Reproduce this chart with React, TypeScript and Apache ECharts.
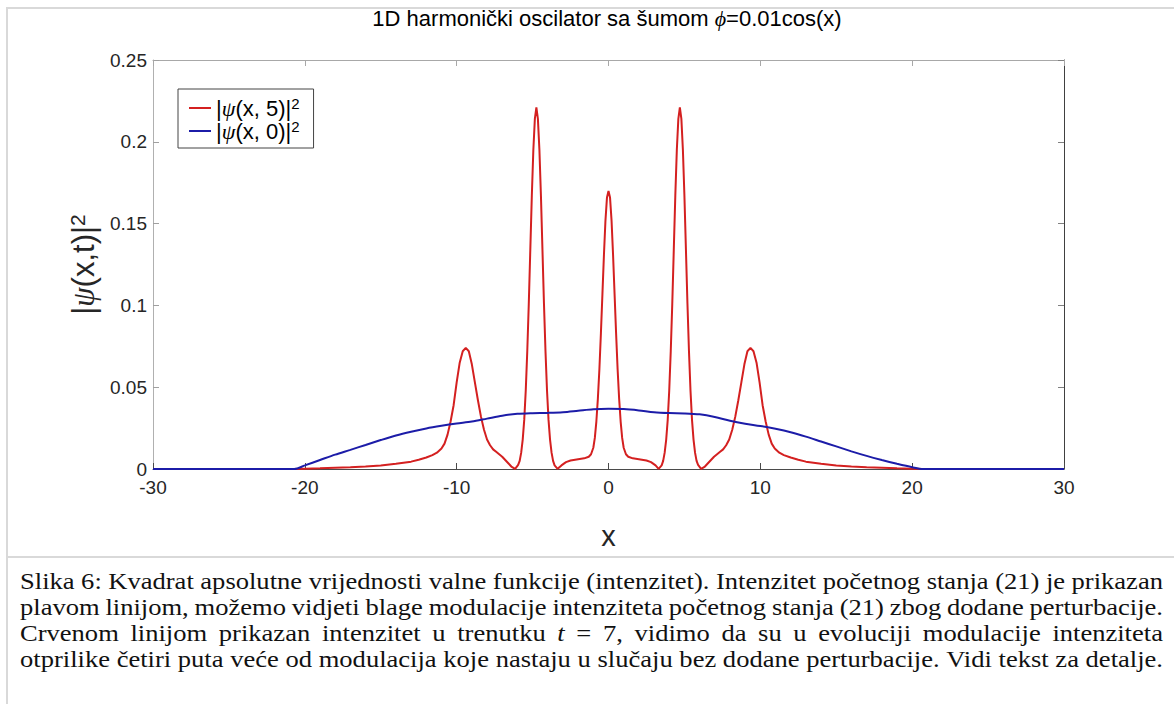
import React, { useEffect, useRef } from "react";
import * as echarts from "echarts";

// ---------- data ----------
const xTicks = [-30, -20, -10, 0, 10, 20, 30];
const yTicks = [0, 0.05, 0.1, 0.15, 0.2, 0.25];

const seriesNames = ["|ψ(x, 5)|²", "|ψ(x, 0)|²"];
const legendRich = ["{n||}{g|ψ}{n|(x, 5)|}{s|2}", "{n||}{g|ψ}{n|(x, 0)|}{s|2}"];

const redX = [
  -30, -25, -20.7, -20, -19, -18, -17, -16, -15, -14, -13, -12.5, -12, -11.6, -11.3, -11.0, -10.8, -10.6,
  -10.4, -10.2, -10.0, -9.8, -9.6, -9.4, -9.2, -9.0, -8.8, -8.6, -8.4, -8.2, -8.0, -7.8, -7.6, -7.4, -7.2,
  -7.0, -6.8, -6.6, -6.4, -6.15, -5.95, -5.85, -5.75, -5.65, -5.55, -5.45, -5.35, -5.25, -5.15, -5.05,
  -4.95, -4.85, -4.75, -4.65, -4.55, -4.45, -4.35, -4.25, -4.15, -4.05, -3.95, -3.85, -3.75, -3.65, -3.55,
  -3.35, -3.1, -2.8, -2.5, -2.0, -1.6, -1.3, -1.15, -1.0, -0.9, -0.8, -0.7, -0.6, -0.5, -0.4, -0.3, -0.2,
  -0.1, 0, 0.1, 0.2, 0.3, 0.4, 0.5, 0.6, 0.7, 0.8, 0.9, 1.0, 1.15, 1.3, 1.6, 2.0, 2.5, 2.8, 3.1, 3.3, 3.5,
  3.6, 3.7, 3.8, 3.9, 4.0, 4.1, 4.2, 4.3, 4.4, 4.5, 4.6, 4.7, 4.8, 4.9, 5.0, 5.1, 5.2, 5.3, 5.4, 5.5, 5.6,
  5.7, 5.8, 5.9, 6.1, 6.35, 6.55, 6.75, 6.95, 7.15, 7.35, 7.55, 7.75, 7.95, 8.15, 8.35, 8.55, 8.75, 8.95,
  9.15, 9.35, 9.55, 9.75, 9.95, 10.15, 10.35, 10.55, 10.75, 10.95, 11.25, 11.55, 12, 12.5, 13, 14, 15, 16,
  17, 18, 19, 20, 20.7, 25, 30,
];
const redY = [
  0, 0, 0, 0.0002, 0.0004, 0.0007, 0.001, 0.0015, 0.0022, 0.0032, 0.0045, 0.0057, 0.007, 0.0085, 0.01,
  0.0125, 0.0155, 0.021, 0.029, 0.039, 0.053, 0.065, 0.072, 0.074, 0.072, 0.064, 0.053, 0.042, 0.032, 0.024,
  0.018, 0.0145, 0.012, 0.0105, 0.009, 0.0075, 0.0055, 0.0035, 0.0015, 0.0001, 0.0025, 0.005, 0.01, 0.018,
  0.03, 0.048, 0.072, 0.101, 0.134, 0.167, 0.195, 0.214, 0.221, 0.214, 0.195, 0.167, 0.134, 0.101, 0.072,
  0.048, 0.03, 0.018, 0.01, 0.005, 0.0022, 0.0001, 0.0022, 0.0042, 0.0052, 0.006, 0.0065, 0.0075, 0.009,
  0.013, 0.019, 0.029, 0.043, 0.061, 0.083, 0.107, 0.131, 0.152, 0.166, 0.17, 0.166, 0.152, 0.131, 0.107,
  0.083, 0.061, 0.043, 0.029, 0.019, 0.013, 0.009, 0.0075, 0.0065, 0.006, 0.0052, 0.0042, 0.0022, 0.0001,
  0.0022, 0.005, 0.01, 0.018, 0.03, 0.048, 0.072, 0.101, 0.134, 0.167, 0.195, 0.214, 0.221, 0.214, 0.195,
  0.167, 0.134, 0.101, 0.072, 0.048, 0.03, 0.018, 0.01, 0.005, 0.0025, 0.0001, 0.0015, 0.0035, 0.0055,
  0.0075, 0.009, 0.0105, 0.012, 0.0145, 0.018, 0.024, 0.032, 0.042, 0.053, 0.064, 0.072, 0.074, 0.072,
  0.065, 0.053, 0.039, 0.029, 0.021, 0.0155, 0.0125, 0.01, 0.0085, 0.007, 0.0057, 0.0045, 0.0032, 0.0022,
  0.0015, 0.001, 0.0007, 0.0004, 0.0002, 0, 0, 0,
];

const blueX = [
  -30, -25, -20.7, -20, -19, -18, -17, -16, -15, -14, -13, -12, -11, -10, -9, -8, -7, -6, -5, -4, -3, -2, -1,
  0, 1, 2, 3, 4, 5, 6, 7, 8, 9, 10, 11, 12, 13, 14, 15, 16, 17, 18, 19, 20, 20.7, 25, 30,
];
const blueY = [
  0, 0, 0, 0.0022, 0.0055, 0.0088, 0.0117, 0.0147, 0.0177, 0.0205, 0.0228, 0.0248, 0.0264, 0.0278, 0.029,
  0.0308, 0.0326, 0.0337, 0.0341, 0.0343, 0.0347, 0.0356, 0.0365, 0.0368, 0.0366, 0.0358, 0.0347, 0.0342,
  0.034, 0.0334, 0.0318, 0.0295, 0.0277, 0.0263, 0.0246, 0.0225, 0.0198, 0.0168, 0.0138, 0.0108, 0.008,
  0.0055, 0.0032, 0.0011, 0, 0, 0,
];

const titleRich = "{a|1D harmonički oscilator sa šumom }{p|ϕ}{a|=0.01cos(x)}";
const yNameRich = "{n||}{g|ψ}{n|(x,t)|}{s|2}";
const xName = "x";

const captionLines = [
  "Slika 6: Kvadrat apsolutne vrijednosti valne funkcije (intenzitet). Intenzitet početnog stanja (21) je prikazan",
  "plavom linijom, možemo vidjeti blage modulacije intenziteta početnog stanja (21) zbog dodane perturbacije.",
  "Crvenom linijom prikazan intenzitet u trenutku *t* = 7, vidimo da su u evoluciji modulacije intenziteta",
  "otprilike četiri puta veće od modulacija koje nastaju u slučaju bez dodane perturbacije. Vidi tekst za detalje.",
];
const captionJustify = [true, true, true, false];

// ---------- layout / style ----------
const SANS = '"Liberation Sans", Arial, sans-serif';
const SERIF = '"Liberation Serif", "Times New Roman", serif';
const RED = "#d42020";
const BLUE = "#1c1ca8";
const CAP_FONT = 23;
const CAP_X0 = 20;
const CAP_W = 1143;
const CAP_Y = [581, 607, 633, 659];

export default function App() {
  const ref = useRef<HTMLDivElement>(null);

  useEffect(() => {
    const el = ref.current;
    if (!el) return;
    const chart = echarts.init(el, undefined, { renderer: "svg" });

    // caption words, justified and horizontally stretched like the reference image
    const canvas = document.createElement("canvas");
    const ctx = canvas.getContext("2d")!;
    const parsed = captionLines.map((line) =>
      line.split(" ").map((w) => {
        const it = /^\*.+\*$/.test(w);
        return { t: it ? w.slice(1, -1) : w, it };
      })
    );
    const measure = (w: { t: string; it: boolean }) => {
      ctx.font = `${w.it ? "italic " : ""}${CAP_FONT}px ${SERIF}`;
      return ctx.measureText(w.t).width;
    };
    ctx.font = `${CAP_FONT}px ${SERIF}`;
    const space = ctx.measureText(" ").width;
    const lastWords = parsed[parsed.length - 1];
    const lastNatural =
      lastWords.map(measure).reduce((a, b) => a + b, 0) + space * (lastWords.length - 1);
    const sx = CAP_W / lastNatural;

    const capElems: any[] = [];
    parsed.forEach((words, i) => {
      const widths = words.map((w) => measure(w) * sx);
      const sum = widths.reduce((a, b) => a + b, 0);
      const gap = captionJustify[i] ? (CAP_W - sum) / (words.length - 1) : space * sx;
      let x = CAP_X0;
      words.forEach((w, j) => {
        capElems.push({
          type: "text",
          x,
          y: CAP_Y[i],
          scaleX: sx,
          silent: true,
          style: {
            text: w.t,
            fontSize: CAP_FONT,
            fontFamily: SERIF,
            fontStyle: w.it ? "italic" : "normal",
            fill: "#111",
            align: "left",
            verticalAlign: "middle",
          },
        });
        x += widths[j] + gap;
      });
    });

    const baseX = {
      type: "value",
      min: xTicks[0],
      max: xTicks[xTicks.length - 1],
      interval: xTicks[1] - xTicks[0],
      splitLine: { show: false },
    };
    const baseY = {
      type: "value",
      min: yTicks[0],
      max: yTicks[yTicks.length - 1],
      interval: yTicks[1] - yTicks[0],
      splitLine: { show: false },
    };

    chart.setOption({
      animation: false,
      backgroundColor: "#fff",
      title: {
        text: titleRich,
        left: 602,
        top: 2,
        textAlign: "center",
        textStyle: {
          fontWeight: "normal",
          rich: {
            a: { fontSize: 22, fontFamily: SANS, fontWeight: "normal", color: "#000" },
            p: { fontSize: 22, fontFamily: SERIF, fontStyle: "italic", fontWeight: "normal", color: "#000" },
          },
        },
      },
      legend: {
        left: 178,
        top: 89,
        orient: "vertical",
        icon: "rect",
        itemWidth: 22,
        itemHeight: 2,
        itemGap: 0,
        padding: [7, 14, 6, 11],
        borderColor: "#444",
        borderWidth: 1,
        backgroundColor: "#fff",
        data: seriesNames,
        formatter: (name: string) => legendRich[seriesNames.indexOf(name)],
        textStyle: {
          rich: {
            n: { fontSize: 22, fontFamily: SANS, color: "#000", lineHeight: 24 },
            g: { fontSize: 22, fontFamily: SERIF, fontStyle: "italic", color: "#000", lineHeight: 24 },
            s: { fontSize: 15, fontFamily: SANS, color: "#000", verticalAlign: "top", lineHeight: 12 },
          },
        },
      },
      grid: { left: 153, right: 110, top: 60, bottom: 235, containLabel: false },
      xAxis: [
        {
          ...baseX,
          position: "bottom",
          axisLine: { show: true, onZero: false, lineStyle: { color: "#4a4a4a", width: 1 } },
          axisTick: { show: true, inside: true, length: 6, lineStyle: { color: "#4a4a4a" } },
          axisLabel: { fontSize: 19, fontFamily: SANS, color: "#262626", margin: 9 },
          name: xName,
          nameLocation: "middle",
          nameGap: 52,
          nameTextStyle: { fontSize: 29, fontFamily: SANS, color: "#262626" },
        },
        {
          ...baseX,
          position: "top",
          axisLine: { show: true, onZero: false, lineStyle: { color: "#a8a8a8", width: 1 } },
          axisTick: { show: true, inside: true, length: 6, lineStyle: { color: "#a8a8a8" } },
          axisLabel: { show: false },
        },
      ],
      yAxis: [
        {
          ...baseY,
          position: "left",
          axisLine: { show: true, onZero: false, lineStyle: { color: "#b0b0b0", width: 1 } },
          axisTick: { show: true, inside: true, length: 6, lineStyle: { color: "#a0a0a0" } },
          axisLabel: { fontSize: 19, fontFamily: SANS, color: "#262626", margin: 6 },
          name: yNameRich,
          nameLocation: "middle",
          nameRotate: 90,
          nameGap: 48,
          nameTextStyle: {
            rich: {
              n: { fontSize: 31, fontFamily: SANS, color: "#262626", lineHeight: 34 },
              g: { fontSize: 31, fontFamily: SERIF, fontStyle: "italic", color: "#262626", lineHeight: 34 },
              s: { fontSize: 21, fontFamily: SANS, color: "#262626", verticalAlign: "top", lineHeight: 18 },
            },
          },
        },
        {
          ...baseY,
          position: "right",
          axisLine: { show: true, onZero: false, lineStyle: { color: "#404040", width: 1 } },
          axisTick: { show: true, inside: true, length: 6, lineStyle: { color: "#808080" } },
          axisLabel: { show: false },
        },
      ],
      series: [
        {
          type: "line",
          name: seriesNames[0],
          xAxisIndex: 0,
          yAxisIndex: 0,
          data: redX.map((x, i) => [x, redY[i]]),
          showSymbol: false,
          symbol: "none",
          smooth: false,
          lineStyle: { color: RED, width: 2 },
          itemStyle: { color: RED },
        },
        {
          type: "line",
          name: seriesNames[1],
          xAxisIndex: 0,
          yAxisIndex: 0,
          data: blueX.map((x, i) => [x, blueY[i]]),
          showSymbol: false,
          symbol: "none",
          smooth: 0.3,
          lineStyle: { color: BLUE, width: 2 },
          itemStyle: { color: BLUE },
        },
      ],
      graphic: [
        {
          type: "rect",
          silent: true,
          z: -10,
          shape: { x: 7, y: 8, width: 1200, height: 720 },
          style: { fill: "none", stroke: "#d9d9d9", lineWidth: 2 },
        },
        {
          type: "line",
          silent: true,
          z: -10,
          shape: { x1: 7, y1: 557, x2: 1174, y2: 557 },
          style: { stroke: "#d9d9d9", lineWidth: 2 },
        },
        ...capElems,
      ],
    });

    return () => chart.dispose();
  }, []);

  return (
    <div
      ref={ref}
      style={{ position: "fixed", left: 0, top: 0, width: 1174, height: 704, background: "#fff" }}
    />
  );
}
